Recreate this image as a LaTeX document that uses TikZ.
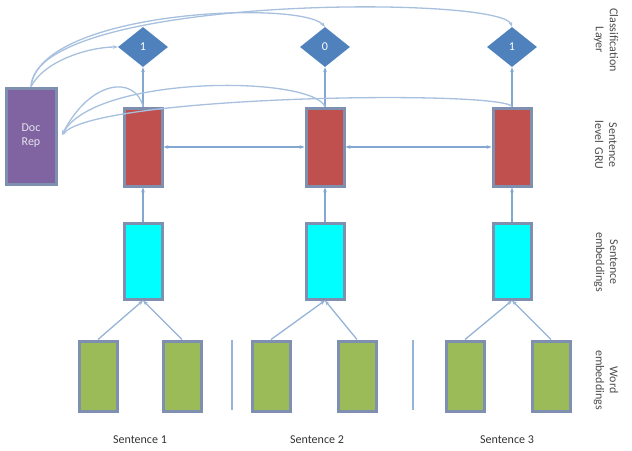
\documentclass[tikz,border=0pt]{standalone}
\usepackage{fontspec}
\setmainfont{Carlito}
\usetikzlibrary{shapes.geometric,arrows.meta}
\definecolor{gr}{HTML}{9BBB59}
\definecolor{rd}{HTML}{C0504D}
\definecolor{pu}{HTML}{8064A2}
\definecolor{bl}{HTML}{4F81BD}
\definecolor{bd}{HTML}{7F8FB0}
\definecolor{cy}{HTML}{00FFFF}
\begin{document}
\begin{tikzpicture}[x=1pt,y=-1pt,
 box/.style={draw=bd,line width=3pt,minimum width=38pt,inner sep=0pt},
 red/.style={box,fill=rd,minimum height=78pt},
 cyb/.style={box,fill=cy,minimum height=76pt},
 gn/.style={box,fill=gr,minimum height=70pt},
 dia/.style={diamond,fill=bl,text=white,minimum width=50pt,minimum height=40pt,inner sep=0pt,aspect=1.25,font=\large},
 ar/.style={draw=bl!70,line width=1.3pt,-{Stealth[length=5pt]}},
 lab/.style={rotate=-90,align=center,font=\large,text=black!70,text width=80pt}]
\useasboundingbox (0,0) rectangle (632,450);
\node[box,fill=pu,minimum width=50pt,minimum height=96pt,text=white!80!pu,align=center,font=\large] (doc) at (31,136) {Doc\\Rep};
\foreach \i/\x/\v in {1/143/1,2/325/0,3/512/1}{
 \node[dia] (d\i) at (\x,47) {\v};
 \node[red] (r\i) at (\x,147) {};
 \node[cyb] (c\i) at (\x,261) {};
}
\node[gn] (g1) at (98,376) {}; \node[gn] (g2) at (182,376) {};
\node[gn] (g3) at (271,376) {}; \node[gn] (g4) at (357,376) {};
\node[gn] (g5) at (465,376) {}; \node[gn] (g6) at (551,376) {};
\coordinate (s1a) at (232,340); \coordinate (s1b) at (232,410);
\coordinate (s2a) at (413,340); \coordinate (s2b) at (413,410);
\draw[bl!60,line width=1.3pt] (s1a)--(s1b) (s2a)--(s2b);
\foreach \a/\b in {g1/c1,g2/c1,g3/c2,g4/c2,g5/c3,g6/c3} \draw[ar,draw=bl!60] (\a.north) -- (\b.south);
\foreach \i in {1,2,3}{
 \draw[ar] (c\i.north) -- (r\i.south);
 \draw[ar] (r\i.north) -- (d\i.south);
}
\draw[ar,{Stealth[length=5pt]}-{Stealth[length=5pt]}] (r1.east) -- (r2.west);
\draw[ar,{Stealth[length=5pt]}-{Stealth[length=5pt]}] (r2.east) -- (r3.west);
\coordinate (dr) at (62,135);
\draw[ar,draw=bl!50] (r1.north) .. controls (135,75) and (90,80) .. (dr);
\draw[ar,draw=bl!50] (r2.north) .. controls (310,75) and (95,75) .. (dr);
\draw[ar,draw=bl!50] (r3.north) .. controls (500,90) and (100,95) .. (dr);
\draw[ar,draw=bl!50] (doc.north) .. controls (45,60) and (90,47) .. (d1.west);
\draw[ar,draw=bl!50] (doc.north) .. controls (40,10) and (300,0) .. (d2.north);
\draw[ar,draw=bl!50] (doc.north) .. controls (35,-5) and (500,-5) .. (d3.north);
\node[font=\large,text=black!80] (t1) at (140,440) {Sentence 1};
\node[font=\large,text=black!80] (t2) at (317,440) {Sentence 2};
\node[font=\large,text=black!80] (t3) at (507,440) {Sentence 3};
\node[lab] (l1) at (606,40) {Classification\\Layer};
\node[lab] (l2) at (606,145) {Sentence\\level GRU};
\node[lab] (l3) at (606,262) {Sentence\\embeddings};
\node[lab] (l4) at (606,380) {Word\\embeddings};
\end{tikzpicture}
\end{document}
